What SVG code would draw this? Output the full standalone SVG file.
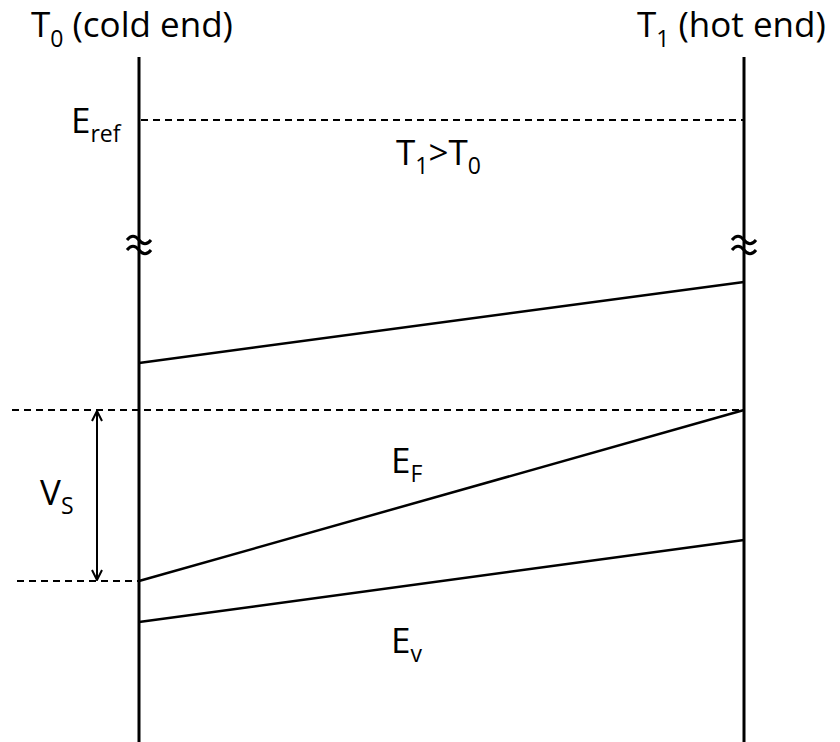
<svg xmlns="http://www.w3.org/2000/svg" width="840" height="742" viewBox="0 0 840 742">
<style>
text{font-family:"Open Sans","Noto Sans",sans-serif;fill:#000;font-size:35px}
.sub{font-size:23px}
.axis{stroke:#000;stroke-width:3;fill:none}
.band{stroke:#000;stroke-width:2.5;fill:none}
.dash{stroke:#000;stroke-width:2;stroke-dasharray:7 5;fill:none}
.brk{stroke:#000;stroke-width:3;fill:none}
</style>
<defs>
<marker id="chev" viewBox="0 0 12 12" refX="11" refY="6" markerWidth="12" markerHeight="12" markerUnits="userSpaceOnUse" orient="auto-start-reverse">
<path d="M1,1 L11,6 L1,11" fill="none" stroke="#000" stroke-width="2"/>
</marker>
</defs>
<rect width="840" height="742" fill="#fff"/>
<g id="cold-end">
<line class="axis" x1="139" y1="57" x2="139" y2="742"/>
<text x="31" y="37">T<tspan class="sub" dy="10">0</tspan><tspan dy="-10"> (cold end)</tspan></text>
<path class="brk" d="M127,240 c4,-5 8,-5 12,0 s8,5 12,0 M127,250 c4,-5 8,-5 12,0 s8,5 12,0"/>
</g>
<g id="hot-end">
<line class="axis" x1="744" y1="57" x2="744" y2="742"/>
<text x="637" y="37">T<tspan class="sub" dy="10">1</tspan><tspan dy="-10"> (hot end)</tspan></text>
<path class="brk" d="M732,240 c4,-5 8,-5 12,0 s8,5 12,0 M732,250 c4,-5 8,-5 12,0 s8,5 12,0"/>
</g>
<g id="e-ref">
<text x="71" y="133">E<tspan class="sub" dy="9">ref</tspan></text>
</g>
<g id="t-label">
<text x="396" y="165">T<tspan class="sub" dy="9">1</tspan><tspan dy="-9">&gt;T</tspan><tspan class="sub" dy="9">0</tspan></text>
</g>
<g id="e-f">
<text x="391" y="473">E<tspan class="sub" dy="9">F</tspan></text>
</g>
<g id="e-v">
<text x="391" y="653">E<tspan class="sub" dy="9">v</tspan></text>
</g>
<g id="v-s">
<text x="40" y="505">V<tspan class="sub" dy="9">S</tspan></text>
</g>
<g id="connectors">
<line class="dash" x1="141" y1="120" x2="744" y2="120"/>
<line class="band" x1="139" y1="363" x2="744" y2="282"/>
<line class="dash" x1="12" y1="410" x2="744" y2="410"/>
<line class="dash" x1="17" y1="581" x2="139" y2="581"/>
<line class="band" x1="139" y1="581" x2="744" y2="410"/>
<line class="band" x1="139" y1="622" x2="744" y2="540"/>
<line stroke="#000" stroke-width="2" x1="97" y1="411" x2="97" y2="580" marker-start="url(#chev)" marker-end="url(#chev)"/>
</g>
</svg>
